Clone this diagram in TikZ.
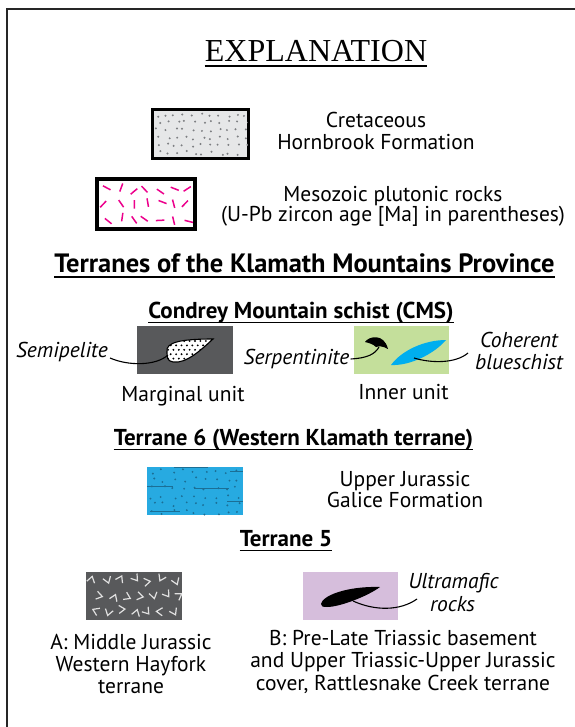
\documentclass[tikz,border=0pt]{standalone}
\usepackage{fontspec}
\setmainfont{PT Sans}
\newfontfamily\timesfont{Liberation Serif}
\definecolor{lgrey}{HTML}{E6E7E8}
\definecolor{dotgrey}{HTML}{7D7F82}
\definecolor{dgrey}{HTML}{58595B}
\definecolor{pmag}{HTML}{EC008C}
\definecolor{igreen}{HTML}{C4DF9B}
\definecolor{bcyan}{HTML}{00AEEF}
\definecolor{gcyan}{HTML}{27AAE1}
\definecolor{gdot}{HTML}{1B6F96}
\definecolor{lav}{HTML}{D6BEDC}
\begin{document}
\begin{tikzpicture}[x=1pt,y=-1pt,
  lbl/.style={anchor=base,inner sep=0pt,font=\fontsize{21.5}{24}\selectfont},
  ilbl/.style={lbl,font=\fontsize{21.5}{24}\selectfont\itshape},
  hdr/.style={anchor=base,inner sep=0pt,font=\fontsize{23}{26}\selectfont\bfseries},
  uline/.style={line width=1.7pt},
  leader/.style={line width=1.1pt}]
\useasboundingbox (0,0) rectangle (574,727);
\fill[white] (0,0) rectangle (574,727);
% frame
\draw[line width=2.6pt,color=black!85] (7,740) -- (7,9) -- (590,9);

% title
\node[anchor=base,inner sep=0pt,font=\timesfont\fontsize{32}{36}\selectfont] (title) at (316,62) {EXPLANATION};
\draw[line width=1.2pt] ([yshift=-4pt]title.base west) -- ([yshift=-4pt]title.base east);

% Box 1: Hornbrook
\pgfmathsetseed{11}
\node[draw,line width=2pt,fill=lgrey,minimum width=95pt,minimum height=48pt,inner sep=0pt] (hb) at (200.5,134) {};
\begin{scope}
\clip (hb.south west) rectangle (hb.north east);
\foreach \r in {0,...,5}{
  \foreach \c in {0,...,10}{
    \pgfmathsetmacro\px{155+\c*8.8+5*rnd+2*mod(\r,2)}
    \pgfmathsetmacro\py{113+\r*7.6+4*rnd}
    \fill[dotgrey] (\px,\py) circle (1.1pt);
  }
}
\end{scope}
\draw[line width=2pt] (hb.south west) rectangle (hb.north east);
\node[lbl] (hb1) at (376,128) {Cretaceous};
\node[lbl] (hb2) at (376,150) {Hornbrook Formation};

% Box 2: plutonic
\node[draw,line width=2.6pt,fill=white,minimum width=96pt,minimum height=48pt,inner sep=0pt] (pl) at (146,204) {};
\begin{scope}
\clip (pl.south west) rectangle (pl.north east);
\pgfmathsetseed{21}
\foreach \r in {0,...,2}{
  \foreach \c in {0,...,6}{
    \pgfmathsetmacro\px{103+\c*13.5+6*rnd}
    \pgfmathsetmacro\py{187+\r*15+5*rnd}
    \pgfmathsetmacro\an{180*rnd}
    \draw[pmag,line width=1.5pt] (\px,\py) ++(\an:4.3pt) -- ++(\an+180:8.6pt);
  }
}
\end{scope}
\draw[line width=2.6pt] (pl.south west) rectangle (pl.north east);
\node[lbl] (pl1) at (393,201) {Mesozoic plutonic rocks};
\node[lbl] (pl2) at (393,222) {(U-Pb zircon age [Ma] in parentheses)};

% Terranes header
\node[anchor=base,inner sep=0pt,font=\fontsize{26.5}{30}\selectfont\bfseries] (terr) at (304.5,272) {Terranes of the Klamath Mountains Province};
\draw[uline] ([yshift=-5pt]terr.base west) -- ([yshift=-5pt]terr.base east);

% CMS header
\node[hdr] (cms) at (301,318) {Condrey Mountain schist (CMS)};
\draw[uline] ([yshift=-4.5pt]cms.base west) -- ([yshift=-4.5pt]cms.base east);

% Marginal unit
\node[fill=dgrey,minimum width=96pt,minimum height=48pt,inner sep=0pt] (mu) at (185,350) {};
\path[fill=white] (167,352) .. controls (165,342) and (182,339) .. (213,339) .. controls (201,350) and (186,364) .. (173,362) .. controls (167,361) and (167,357) .. cycle;
\begin{scope}
\clip (167,352) .. controls (165,342) and (182,339) .. (213,339) .. controls (201,350) and (186,364) .. (173,362) .. controls (167,361) and (167,357) .. cycle;
\foreach \r in {0,...,5}{
  \foreach \c in {0,...,9}{
    \pgfmathsetmacro\px{168+\c*5.4+2.7*mod(\r,2)}
    \pgfmathsetmacro\py{341+\r*4.4}
    \fill[black] (\px,\py) circle (1.05pt);
  }
}
\end{scope}
\draw[line width=1.1pt] (167,352) .. controls (165,342) and (182,339) .. (213,339) .. controls (201,350) and (186,364) .. (173,362) .. controls (167,361) and (167,357) .. cycle;
\coordinate (semiend) at (168,355);
\node[ilbl] (semi) at (62,357) {Semipelite};
\draw[leader] ([xshift=2pt,yshift=-1pt]semi.base east) .. controls (128,366) and (156,366) .. (semiend);
\node[lbl] (mul) at (183,401) {Marginal unit};

% Inner unit
\node[fill=igreen,minimum width=95pt,minimum height=48pt,inner sep=0pt] (iu) at (401.5,350) {};
\fill[black] (365,342) .. controls (369,336) and (384,333) .. (388,349) .. controls (383,346) and (379,346) .. (376,347) .. controls (373,344) and (369,343) .. cycle;
\fill[bcyan] (391,365) .. controls (402,350) and (425,340) .. (446,340) .. controls (436,352) and (412,366) .. cycle;
\coordinate (serpend) at (379,347);
\coordinate (blueend) at (414,358);
\node[ilbl] (serp) at (296.5,364) {Serpentinite};
\draw[leader] ([xshift=1pt,yshift=5pt]serp.base east) .. controls (368,358) and (375,354) .. (serpend);
\node[ilbl] (coh1) at (519,347) {Coherent};
\node[ilbl] (coh2) at (519,369) {blueschist};
\draw[leader] (468,353) .. controls (455,364) and (430,363) .. (blueend);
\node[lbl] (iul) at (403.5,399) {Inner unit};

% Terrane 6 header
\node[hdr] (t6) at (293.5,445) {Terrane 6 (Western Klamath terrane)};
\draw[uline] ([yshift=-4.5pt]t6.base west) -- ([yshift=-4.5pt]t6.base east);

% Galice box
\node[fill=gcyan,minimum width=96pt,minimum height=48pt,inner sep=0pt] (ga) at (195,491) {};
\begin{scope}
\clip (ga.south west) rectangle (ga.north east);
\pgfmathsetseed{5}
\foreach \r in {0,...,5}{
  \foreach \c in {0,...,8}{
    \pgfmathsetmacro\px{150+\c*10.5+6*rnd}
    \pgfmathsetmacro\py{469+\r*8.2+5*rnd}
    \fill[gdot] (\px,\py) circle (1.05pt);
  }
}
\draw[gdot,line width=1pt] (174,467.5) -- (208,467.5) (230,471) -- (243,471) (147,486.5) -- (173,486.5) (194,488.5) -- (229,488.5) (227,501) -- (243,501) (150,511) -- (180,511);
\end{scope}
\node[lbl] (ga1) at (405,486) {Upper Jurassic};
\node[lbl] (ga2) at (405,507) {Galice Formation};

% Terrane 5 header
\node[hdr] (t5) at (286,546) {Terrane 5};
\draw[uline] ([yshift=-4.5pt]t5.base west) -- ([yshift=-4.5pt]t5.base east);

% Western Hayfork box
\node[fill=dgrey,minimum width=96pt,minimum height=48pt,inner sep=0pt] (wh) at (134,596) {};
\begin{scope}
\clip (wh.south west) rectangle (wh.north east);
\pgfmathsetseed{3}
\foreach \r in {0,...,2}{
  \foreach \c in {0,...,6}{
    \pgfmathsetmacro\px{91+\c*13.5+5*rnd+5*mod(\r,2)}
    \pgfmathsetmacro\py{578+\r*15.5+4*rnd}
    \pgfmathsetmacro\an{360*rnd}
    \draw[white!88!black,line width=1.2pt,rotate around={\an:(\px,\py)}] (\px-4,\py+3) -- (\px,\py-3) -- (\px+4,\py+3);
  }
}
\end{scope}
\node[lbl] (wh1) at (131,649) {A: Middle Jurassic};
\node[lbl] (wh2) at (131,671) {Western Hayfork};
\node[lbl] (wh3) at (131,693) {terrane};

% Rattlesnake box
\node[fill=lav,minimum width=95pt,minimum height=48pt,inner sep=0pt] (rc) at (350.5,596) {};
\fill[black] (321,604) .. controls (322,596) and (346,586) .. (380,587) .. controls (368,596) and (340,607) .. (327,607) .. controls (322,607) and (321,606) .. cycle;
\coordinate (ultend) at (353,601);
\node[ilbl] (ult1) at (453.5,588) {Ultramafic};
\node[ilbl] (ult2) at (452.5,611) {rocks};
\draw[leader] (417,599) .. controls (400,611) and (375,611) .. (ultend);
\node[lbl] (rc1) at (403,645) {B: Pre-Late Triassic basement};
\node[lbl] (rc2) at (403,667) {and Upper Triassic-Upper Jurassic};
\node[lbl] (rc3) at (403,690) {cover, Rattlesnake Creek terrane};
\end{tikzpicture}
\end{document}
